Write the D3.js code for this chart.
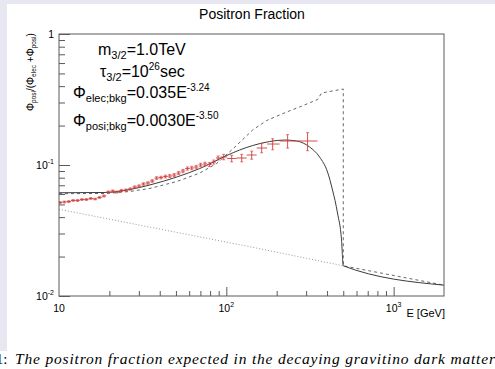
<!DOCTYPE html>
<html lang="en">
<head>
<meta charset="UTF-8">
<title>Positron Fraction</title>
<script src="https://d3js.org/d3.v7.min.js"></script>
<style>
    body{margin:0;background:#fff;}
    svg{display:block;font-family:"Liberation Sans",Arial,sans-serif;}
</style>
</head>
<body>
<script>
// ---- data ----
// measured positron fraction (bin centres, values, errors, bin edges)
var dataE = [10.14, 10.77, 11.44, 12.15, 12.91, 13.72, 14.57, 15.48, 16.44, 17.47,
    18.56, 19.71, 20.94, 22.25, 23.63, 25.11, 26.67, 28.34, 30.10, 31.98,
    33.97, 36.09, 38.33, 40.72, 43.26, 45.95, 48.82, 51.86, 55.09, 58.52,
    62.17, 66.04, 70.16, 74.53, 79.17, 84.11, 89.35, 96.5, 107.7, 123.6,
    141.8, 162.7, 189.2, 232.5, 306.0];
var dataFrac = [0.0517, 0.0522, 0.0526, 0.0536, 0.0536, 0.0545, 0.0545, 0.0555, 0.0550, 0.0565,
    0.0580, 0.0622, 0.0633, 0.0622, 0.0639, 0.0644, 0.0656, 0.0679, 0.0691, 0.0716,
    0.0729, 0.0755, 0.0795, 0.0802, 0.0817, 0.0824, 0.0838, 0.0868, 0.0900, 0.0940,
    0.0949, 0.0965, 0.1000, 0.1018, 0.1009, 0.1054, 0.1131, 0.1151, 0.1121, 0.1131,
    0.1192, 0.1348, 0.1446, 0.1525, 0.1525];
var dataErr = [0.0008, 0.0008, 0.0008, 0.0008, 0.0008, 0.0008, 0.0008, 0.0008, 0.0008, 0.0008,
    0.0010, 0.0011, 0.0011, 0.0011, 0.0012, 0.0012, 0.0013, 0.0013, 0.0014, 0.0015,
    0.0016, 0.0017, 0.0018, 0.0019, 0.0020, 0.0021, 0.0022, 0.0023, 0.0025, 0.0026,
    0.0028, 0.0029, 0.0031, 0.0033, 0.0035, 0.0037, 0.0040, 0.0055, 0.0065, 0.0075,
    0.0085, 0.0110, 0.0140, 0.0180, 0.0240];
var binEdges = [10.0, 10.45, 11.10, 11.79, 12.52, 13.31, 14.14, 15.02, 15.96, 16.94,
    18.01, 19.13, 20.32, 21.58, 22.93, 24.36, 25.88, 27.49, 29.21, 31.02,
    32.96, 35.01, 37.20, 39.51, 41.97, 44.59, 47.36, 50.32, 53.45, 56.78,
    60.32, 64.08, 68.07, 72.31, 76.82, 81.60, 86.69, 92.09, 101.2, 115.3,
    132.3, 151.9, 175.4, 208.3, 263.1, 351.1];

// model with propagation (solid)
var modelE = [10, 19.06, 26.52, 34.91, 50.59, 69.38, 100.6, 120.2, 143.7, 181.5,
    223.1, 263.1, 314.6, 360.8, 402.7, 431.3, 461.9, 488.2, 500, 2000];
var modelFrac = [0.0614, 0.0617, 0.0650, 0.0704, 0.0810, 0.0940, 0.1182, 0.1302, 0.1408, 0.1511,
    0.1551, 0.1525, 0.1372, 0.1151, 0.0884, 0.0644, 0.0430, 0.0268, 0.0170, 0.0121];

// model without propagation (dashed)
var dashE = [10, 19.06, 26.52, 34.91, 50.59, 69.38, 87.63, 107.7, 143.7, 174.2,
    229.3, 274.1, 351.1, 370.9, 500, 500, 2000];
var dashFrac = [0.0604, 0.0606, 0.0628, 0.0662, 0.0748, 0.0868, 0.1027, 0.1302, 0.1850, 0.2186,
    0.2538, 0.2772, 0.3162, 0.3544, 0.3804, 0.0170, 0.0121];

// background only (dotted)
var bkgE = [10, 137.9, 500];
var bkgFrac = [0.0459, 0.0238, 0.0170];

var xMajor = [10, 100, 1000];
var xMajorExp = ["", "2", "3"];
var xMinor = [20, 30, 40, 50, 60, 70, 80, 90, 200, 300, 400, 500, 600, 700, 800, 900];
var yMajor = [0.01, 0.1, 1];
var yMajorExp = ["-2", "-1", ""];
var yMinor = [0.02, 0.03, 0.04, 0.05, 0.06, 0.07, 0.08, 0.09, 0.2, 0.3, 0.4, 0.5, 0.6, 0.7, 0.8, 0.9];

// ---- layout ----
var width = 495, height = 369;
var padL = 59, padR = 444, padT = 34, padB = 296;
var axisColor = "#5a5a5a";
var red = "#d43a3a";

var svg = d3.select("body").append("svg")
    .attr("width", width)
    .attr("height", height);

// page frame strips
svg.append("rect").attr("x", 0).attr("y", 0).attr("width", width).attr("height", 4).attr("fill", "#e7e7f1");
svg.append("rect").attr("x", 0).attr("y", 0).attr("width", 7).attr("height", 351).attr("fill", "#e7e7f1");

var x = d3.scaleLog().domain([10, 2000]).range([padL, padR]);
var y = d3.scaleLog().domain([0.01, 1]).range([padB, padT]);

svg.append("defs").append("clipPath").attr("id", "plot")
    .append("rect").attr("x", padL).attr("y", padT)
    .attr("width", padR - padL).attr("height", padB - padT);

// axes ticks (inside the frame)
function styleAxis(g) {
    g.select(".domain").remove();
    g.selectAll(".tick line").attr("stroke", axisColor);
}
svg.append("g").attr("transform", "translate(0," + padB + ")")
    .call(d3.axisBottom(x).tickValues(xMinor).tickSize(-5).tickFormat(""))
    .call(styleAxis);
svg.append("g").attr("transform", "translate(0," + padB + ")")
    .call(d3.axisBottom(x).tickValues(xMajor.slice(1)).tickSize(-9).tickFormat(""))
    .call(styleAxis);
svg.append("g").attr("transform", "translate(" + padL + ",0)")
    .call(d3.axisLeft(y).tickValues(yMinor).tickSize(-6).tickFormat(""))
    .call(styleAxis);
svg.append("g").attr("transform", "translate(" + padL + ",0)")
    .call(d3.axisLeft(y).tickValues(yMajor).tickSize(-11).tickFormat(""))
    .call(styleAxis);

// curves
var plot = svg.append("g").attr("clip-path", "url(#plot)");

var lineSmooth = d3.line().x(function (d) { return x(d[0]); }).y(function (d) { return y(d[1]); }).curve(d3.curveMonotoneX);
var lineStraight = d3.line().x(function (d) { return x(d[0]); }).y(function (d) { return y(d[1]); });

plot.append("path")
    .attr("d", lineStraight(d3.zip(bkgE, bkgFrac)))
    .attr("fill", "none").attr("stroke", "#999").attr("stroke-width", 1)
    .attr("stroke-dasharray", "1,2");
plot.append("path")
    .attr("d", lineStraight(d3.zip(dashE, dashFrac)))
    .attr("fill", "none").attr("stroke", "#555").attr("stroke-width", 0.9)
    .attr("stroke-dasharray", "3,3");
plot.append("path")
    .attr("d", lineSmooth(d3.zip(modelE, modelFrac)))
    .attr("fill", "none").attr("stroke", "#3c3c3c").attr("stroke-width", 1);

// data with error bars
var pts = dataE.map(function (e, i) {
    return {e: e, v: dataFrac[i], err: dataErr[i], lo: binEdges[i], hi: binEdges[i + 1]};
});
var pg = plot.selectAll(".pt").data(pts).enter().append("g").attr("class", "pt")
    .attr("stroke", red).attr("stroke-width", 0.9);
pg.append("line")
    .attr("x1", function (d) { return x(d.lo); }).attr("x2", function (d) { return x(d.hi); })
    .attr("y1", function (d) { return y(d.v); }).attr("y2", function (d) { return y(d.v); });
pg.append("line")
    .attr("x1", function (d) { return x(d.e); }).attr("x2", function (d) { return x(d.e); })
    .attr("y1", function (d) { return y(d.v - d.err); }).attr("y2", function (d) { return y(d.v + d.err); });
[-1, 1].forEach(function (s) {
    pg.append("line")
        .attr("x1", function (d) { return x(d.e) - 1.5; }).attr("x2", function (d) { return x(d.e) + 1.5; })
        .attr("y1", function (d) { return y(d.v + s * d.err); }).attr("y2", function (d) { return y(d.v + s * d.err); })
        .attr("stroke-opacity", 0.75);
});

// frame
svg.append("rect").attr("x", padL).attr("y", padT)
    .attr("width", padR - padL).attr("height", padB - padT)
    .attr("fill", "none").attr("stroke", axisColor).attr("stroke-width", 1);

// tick labels
xMajor.forEach(function (v, i) {
    var t = svg.append("text").attr("x", x(v)).attr("y", padB + 16)
        .attr("text-anchor", "middle").attr("font-size", 10.5).text("10");
    if (xMajorExp[i]) t.append("tspan").attr("font-size", 7).attr("dy", -5).text(xMajorExp[i]);
});
yMajor.forEach(function (v, i) {
    var t = svg.append("text").attr("x", 54).attr("y", y(v) + 4)
        .attr("text-anchor", "end").attr("font-size", 10.5).text(yMajorExp[i] ? "10" : "1");
    if (yMajorExp[i]) t.append("tspan").attr("font-size", 7).attr("dy", -5).text(yMajorExp[i]);
});

svg.append("text").attr("x", 445).attr("y", 317).attr("text-anchor", "end")
    .attr("font-size", 11).text("E [GeV]");

// title
svg.append("text").attr("x", 252).attr("y", 19).attr("text-anchor", "middle")
    .attr("font-size", 14).text("Positron Fraction");

// y axis title, rotated
var yt = svg.append("text").attr("transform", "translate(34,72) rotate(-90)")
    .attr("text-anchor", "middle").attr("font-size", 10);
yt.append("tspan").text("\u03A6");
yt.append("tspan").attr("font-size", 6.5).attr("dy", 2).text("posi");
yt.append("tspan").attr("dy", -2).text("/(\u03A6");
yt.append("tspan").attr("font-size", 6.5).attr("dy", 2).text("elec");
yt.append("tspan").attr("dy", -2).text(" +\u03A6");
yt.append("tspan").attr("font-size", 6.5).attr("dy", 2).text("posi");
yt.append("tspan").attr("dy", -2).text(")");

// annotation block
function note(xp, yp, parts) {
    var t = svg.append("text").attr("x", xp).attr("y", yp).attr("font-size", 16);
    parts.forEach(function (p) {
        var s = t.append("tspan").text(p[0]);
        if (p[1] === "sub") s.attr("font-size", 11).attr("dy", 4);
        if (p[1] === "sup") s.attr("font-size", 10).attr("dy", -7);
        if (p[2]) s.attr("dy", p[2]);
    });
}
note(98, 55, [["m"], ["3/2", "sub"], ["=1.0TeV", null, -4]]);
note(100, 77, [["\u03C4"], ["3/2", "sub"], ["=10", null, -4], ["26", "sup"], ["sec", null, 7]]);
note(73, 98, [["\u03A6"], ["elec;bkg", "sub"], ["=0.035E", null, -4], ["-3.24", "sup"]]);
note(73, 126, [["\u03A6"], ["posi;bkg", "sub"], ["=0.0030E", null, -4], ["-3.50", "sup"]]);

// caption below the figure
svg.append("text").attr("x", 7.5).attr("y", 364).attr("text-anchor", "end")
    .attr("font-family", "'Liberation Serif',serif").attr("font-size", 15).text("1:");
svg.append("text").attr("x", 15).attr("y", 364)
    .attr("font-family", "'Liberation Serif',serif").attr("font-style", "italic")
    .attr("font-size", 15.5).attr("textLength", 480).attr("lengthAdjust", "spacing")
    .text("The positron fraction expected in the decaying gravitino dark matter");
</script>
</body>
</html>
